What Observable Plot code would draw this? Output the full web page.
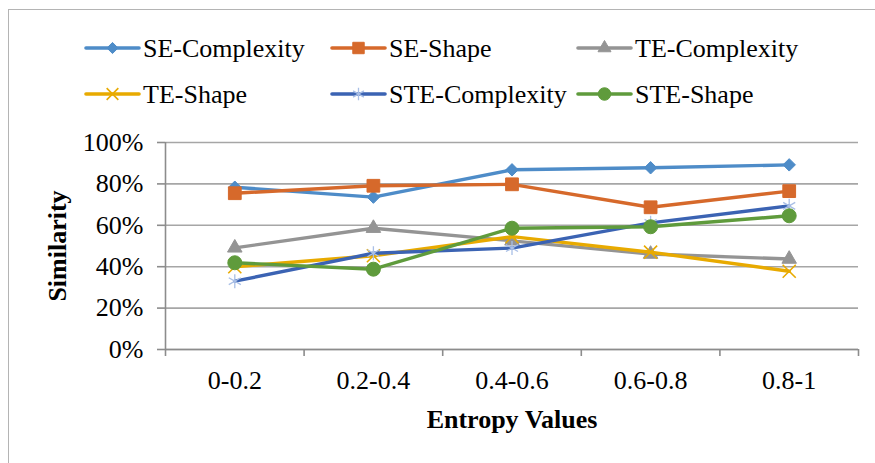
<!DOCTYPE html>
<html>
<head>
<meta charset="utf-8">
<script src="https://cdn.jsdelivr.net/npm/d3@7"></script>
<script src="https://cdn.jsdelivr.net/npm/@observablehq/plot@0.6"></script>
<style>
  html, body { margin: 0; padding: 0; background: #fff; overflow: hidden; }
  #wrap { position: relative; width: 875px; height: 463px; overflow: hidden; background: #fff; }
  #frame { position: absolute; left: 8px; top: 9px; width: 1000px; height: 1000px; border: 1.5px solid #b4b4b4; box-sizing: border-box; }
  #chart, #legend { position: absolute; left: 0; top: 0; }
</style>
</head>
<body>
<div id="wrap">
  <div id="frame"></div>
  <div id="chart"></div>
  <div id="legend"></div>
</div>
<script>
// ---- data ----
const categories = ["0-0.2", "0.2-0.4", "0.4-0.6", "0.6-0.8", "0.8-1"];
const seriesNames = ["SE-Complexity", "SE-Shape", "TE-Complexity", "TE-Shape", "STE-Complexity", "STE-Shape"];
const seComplexity  = [0.784, 0.736, 0.868, 0.878, 0.892];
const seShape       = [0.755, 0.791, 0.798, 0.687, 0.765];
const teComplexity  = [0.491, 0.586, 0.525, 0.461, 0.437];
const teShape       = [0.400, 0.453, 0.545, 0.470, 0.378];
const steComplexity = [0.330, 0.465, 0.490, 0.612, 0.694];
const steShape      = [0.419, 0.388, 0.586, 0.593, 0.646];
const yTicks = [0, 0.2, 0.4, 0.6, 0.8, 1.0];

// ---- styles ----
const styles = [
  {color: "#4e8cc8", symbol: "diamond2", r: 5.6, markerFill: "#4e8cc8", markerStroke: "#4e8cc8", sw: 1},
  {color: "#d6692b", symbol: "square",   r: 7.2, markerFill: "#d6692b", markerStroke: "#d6692b", sw: 1},
  {color: "#949494", symbol: "triangle", r: 5.4, markerFill: "#949494", markerStroke: "#949494", sw: 1},
  {color: "#e8aa00", symbol: "times",    r: 6.0, markerFill: "none",    markerStroke: "#e8aa00", sw: 1.6},
  {color: "#3b63b3", symbol: "asterisk", r: 6.6, markerFill: "none",    markerStroke: "#a9bfe6", sw: 1.3},
  {color: "#5f9b3c", symbol: "circle",   r: 7.0, markerFill: "#5f9b3c", markerStroke: "#5f9b3c", sw: 1}
];
const valueLists = [seComplexity, seShape, teComplexity, teShape, steComplexity, steShape];

const series = seriesNames.map((name, s) => ({
  name,
  style: styles[s],
  rows: valueLists[s].map((v, i) => ({i, v, cat: categories[i]}))
}));

const boundaries = categories.map((_, i) => i - 0.5).concat([categories.length - 0.5]);
const centers = categories.map((_, i) => i);

const fontFamily = "'Liberation Serif', 'Times New Roman', serif";

const plot = Plot.plot({
  width: 875,
  height: 463,
  marginLeft: 165,
  marginRight: 17,
  marginTop: 142,
  marginBottom: 114,
  style: {fontFamily, fontSize: "26px", color: "#000", background: "transparent"},
  x: {type: "linear", domain: [-0.5, categories.length - 0.5], nice: false},
  y: {domain: [0, 1], nice: false},
  marks: [
    Plot.gridY(yTicks, {stroke: "#a6a6a6", strokeOpacity: 1, strokeWidth: 1.6}),
    Plot.ruleX([-0.5], {stroke: "#8c8c8c", strokeWidth: 1.6}),
    Plot.ruleY([0], {stroke: "#8c8c8c", strokeWidth: 1.6}),
    Plot.axisY(yTicks, {
      tickSize: 8, tickPadding: 14, stroke: "#8c8c8c", strokeWidth: 1.6, fill: "#000",
      tickFormat: d => Math.round(d * 100) + "%", label: null, fontSize: 26, fontFamily
    }),
    Plot.axisX(boundaries, {tickSize: 7, tickFormat: () => "", stroke: "#8c8c8c", strokeWidth: 1.6, label: null}),
    Plot.axisX(centers, {tickSize: 0, tickPadding: 21.5, tickFormat: i => categories[i], fill: "#000", label: null, fontSize: 26, fontFamily}),
    Plot.text(["Entropy Values"], {frameAnchor: "bottom", lineAnchor: "middle", textAnchor: "middle", dy: 70.5,
      text: d => d, fontWeight: "bold", fontSize: 26, fontFamily, fill: "#000"}),
    Plot.text(["Similarity"], {frameAnchor: "left", lineAnchor: "middle", textAnchor: "middle", dx: -108, rotate: -90,
      text: d => d, fontWeight: "bold", fontSize: 26, fontFamily, fill: "#000"}),
    ...series.flatMap(s => [
      Plot.line(s.rows, {x: "i", y: "v", stroke: s.style.color, strokeWidth: 3.4, strokeLinejoin: "round", strokeLinecap: "round"}),
      Plot.dot(s.rows, {x: "i", y: "v", symbol: () => s.style.symbol, r: s.style.r,
        fill: s.style.markerFill, stroke: s.style.markerStroke, strokeWidth: s.style.sw})
    ])
  ]
});
document.getElementById("chart").appendChild(plot);

// ---- legend ----
const symbolMap = {
  diamond2: d3.symbolDiamond2, square: d3.symbolSquare, triangle: d3.symbolTriangle,
  times: d3.symbolTimes, asterisk: d3.symbolAsterisk, circle: d3.symbolCircle
};
const colX = [86, 332, 578];
const rowY = [48, 94];
const lsvg = d3.select("#legend").append("svg").attr("width", 875).attr("height", 125)
  .attr("font-family", fontFamily).attr("font-size", 26);
series.forEach((s, k) => {
  const x = colX[k % 3], y = rowY[Math.floor(k / 3)];
  const g = lsvg.append("g");
  g.append("line").attr("x1", x).attr("x2", x + 53).attr("y1", y).attr("y2", y)
    .attr("stroke", s.style.color).attr("stroke-width", 3.6).attr("stroke-linecap", "round");
  g.append("path")
    .attr("d", d3.symbol(symbolMap[s.style.symbol], Math.PI * s.style.r * s.style.r * 0.8)())
    .attr("transform", `translate(${x + 26.5},${y})`)
    .attr("fill", s.style.markerFill).attr("stroke", s.style.markerStroke).attr("stroke-width", s.style.sw);
  g.append("text").attr("x", x + 57).attr("y", y + 9).attr("fill", "#000").text(s.name);
});
</script>
</body>
</html>
